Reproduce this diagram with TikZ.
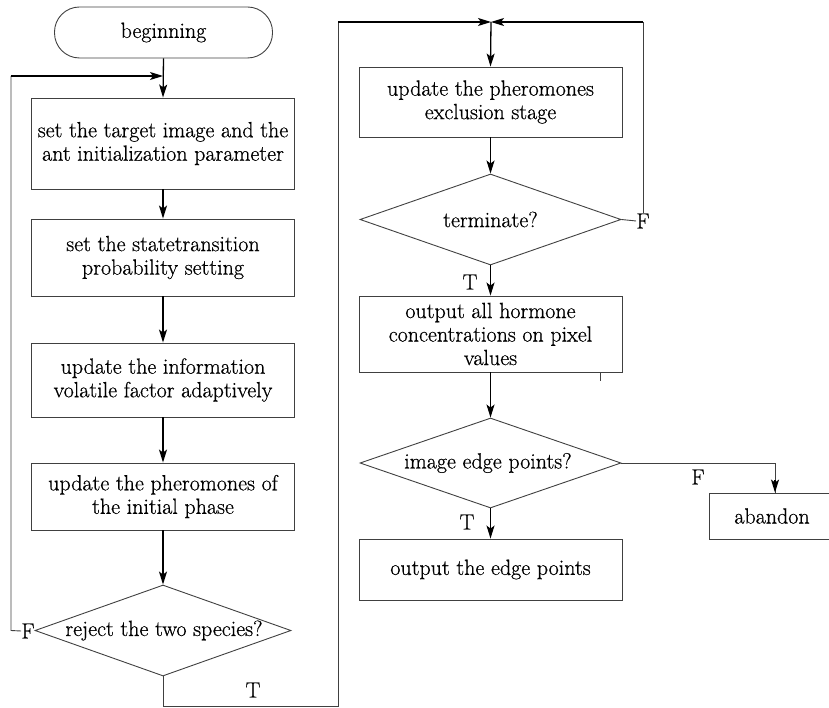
\documentclass[tikz,border=0pt]{standalone}
\usepackage{fontspec}
\setmainfont{Latin Modern Roman}[FakeBold=0.6]
\usetikzlibrary{shapes.geometric,arrows.meta}
\begin{document}
\begin{tikzpicture}[x=1pt,y=-1pt,
  every node/.style={font=\fontsize{22}{23.5}\selectfont},
  box/.style={draw=black!75, line width=0.9pt, rectangle, align=center, inner sep=0pt, minimum width=263pt},
  term/.style={draw=black!75, line width=0.9pt, rectangle, rounded corners=25pt, inner sep=0pt, minimum width=218pt, minimum height=51pt},
  dia/.style={draw=black!75, line width=0.9pt, diamond, inner sep=0pt, minimum width=#1, minimum height=91pt},
  lbl/.style={inner sep=0pt},
  conn/.style={line width=1.3pt, black},
  arr/.style={conn, -{Stealth[length=13pt, width=8pt, inset=3pt]}},
  thin/.style={line width=0.9pt, black!75}
]
\useasboundingbox (0,0) rectangle (829,708);

% left column
\node[term] (beg) at (163.5,32.5) {beginning};
\node[box, minimum height=91pt] (b1) at (163,143.5) {set the target image and the\\ant initialization parameter};
\node[box, minimum height=77pt] (b2) at (163,257.5) {set the statetransition\\probability setting};
\node[box, minimum height=74pt] (b3) at (163,380) {update the information\\volatile factor adaptively};
\node[box, minimum height=67pt] (b4) at (163,496.5) {update the pheromones of\\the initial phase};
\node[dia=256pt] (d1) at (163,630.5) {};
\node[lbl] (d1t) at (164,630.5) {reject the two species?};
\node[lbl] (f1) at (28,631) {F};
\node[lbl] (t1) at (253,690) {T};

% right column
\node[box, minimum height=70pt] (b5) at (490.5,102) {update the pheromones\\exclusion stage};
\node[dia=261pt] (d2) at (490.5,219.5) {};
\node[lbl] (d2t) at (490.5,219.5) {terminate?};
\node[lbl] (f2) at (643,221) {F};
\node[lbl] (t2) at (470,282) {T};
\node[box, minimum height=76pt] (b6) at (490.5,334) {output all hormone\\concentrations on pixel\\values};
\node[dia=261pt, minimum height=90pt] (d3) at (490.5,463) {};
\node[lbl] (d3t) at (488,463) {image edge points?};
\node[lbl] (f3) at (698,477) {F};
\node[lbl] (t3) at (467,522) {T};
\node[box, minimum height=61pt] (b7) at (490.5,569.5) {output the edge points};
\node[box, minimum width=132pt, minimum height=46pt] (ab) at (775,516) {};
\node[lbl] (abt) at (772,516) {abandon};

% junction points
\coordinate (m1) at (163,76);
\coordinate (m2) at (491,22);
\coordinate (l1) at (11,630.5);
\coordinate (l2) at (11,76);
\coordinate (r1) at (163,706);
\coordinate (r2) at (338,706);
\coordinate (r3) at (338,22);

% left arrows
\draw[arr] (beg.south) -- (b1.north);
\draw[arr] (b1.south) -- (b2.north);
\draw[arr] (b2.south) -- (b3.north);
\draw[arr] (b3.south) -- (b4.north);
\draw[arr] (b4.south) -- (d1.north);

% F loop back
\draw[thin] (f1.west) -- (l1) -- (l2);
\draw[arr] (l2) -- (m1);

% T branch to right column
\draw[thin] (d1.south) -- (r1) -- (r2) -- (r3);
\draw[arr] (r3) -- (m2);

% right arrows
\draw[arr] (m2) -- (b5.north);
\draw[arr] (b5.south) -- (d2.north);
\draw[thin] (d2.east) -- (f2.west);
\draw[thin] (f2.north) -- (f2.north |- m2);
\draw[arr] (f2.north |- m2) -- (m2);
\draw[arr] (d2.south) -- (b6.north);
\draw[thin] (600,372) -- (600,381);
\draw[arr] (b6.south) -- (d3.north);
\draw[thin] (d3.east) -| (ab.north);
\draw[arr] (775,480) -- (ab.north);
\draw[arr] (d3.south) -- (b7.north);
\end{tikzpicture}
\end{document}
